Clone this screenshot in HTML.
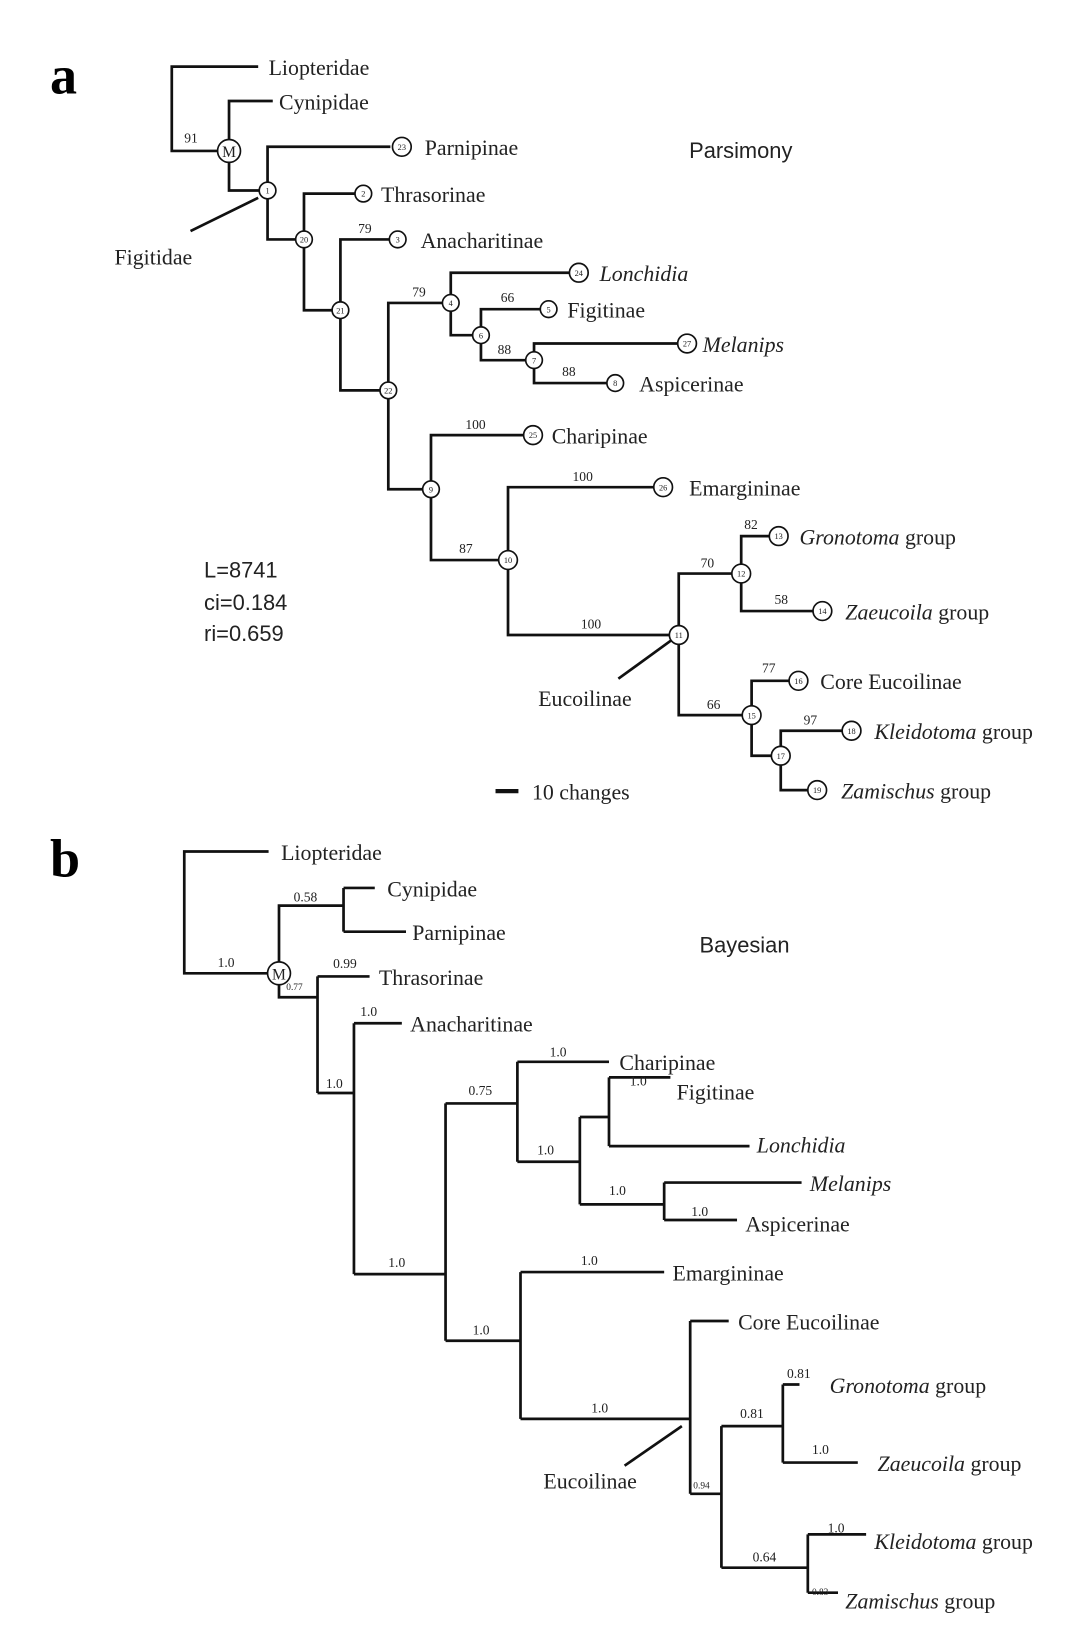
<!DOCTYPE html>
<html><head><meta charset="utf-8"><style>
html,body{margin:0;padding:0;background:#fff;}
svg{display:block}
.s{font-family:"Liberation Serif",serif;font-size:21px;fill:#222}
.i{font-style:italic}
.n{font-family:"Liberation Serif",serif;font-size:13px;fill:#222}
.t{font-family:"Liberation Serif",serif;font-size:8px;fill:#222;text-anchor:middle}
.ss{font-family:"Liberation Sans",sans-serif;font-size:21px;fill:#222}
path{stroke:#111;stroke-width:2.6;fill:none}
circle{stroke:#111;stroke-width:1.6;fill:#fff}
</style></head><body>
<svg width="1066" height="1626" viewBox="0 0 1024 1562" xmlns="http://www.w3.org/2000/svg">
<text x="48" y="90" style="font-family:'Liberation Serif',serif;font-weight:bold;font-size:52px">a</text>
<text x="48" y="842" style="font-family:'Liberation Serif',serif;font-weight:bold;font-size:52px">b</text>

<!-- Panel a -->
<path d="M248 64H165V145H209 M220 134V97H262 M220 156V183H249 M257 175V141H375 M257 191V230H284 M292 222V186H342 M292 238V298H319 M327 290V230H375 M327 306V375H365 M373 367V291H425 M373 383V470H406 M433 283V262H548 M433 299V322H455 M462 314V297H520 M462 330V346H505 M513 338V330H652 M513 354V368H583 M414 462V418H504 M414 478V538H480 M488 530V468H629 M488 546V610H644 M652 602V551H704 M652 618V687H714 M712 543V515H741 M712 559V587H782 M722 679V654H760 M722 695V726H742 M750 718V702H811 M750 734V759H778"/>
<path d="M248 190L183 222 M645 615L594 652"/>
<path d="M476 760H498" style="stroke-width:4"/>
<g>
<circle cx="220" cy="145" r="11"/><text x="220" y="151" class="t" style="font-size:15px">M</text>
<circle cx="257" cy="183" r="8"/><text x="257" y="186" class="t">1</text>
<circle cx="386" cy="141" r="9"/><text x="386" y="144" class="t">23</text>
<circle cx="349" cy="186" r="8"/><text x="349" y="189" class="t">2</text>
<circle cx="292" cy="230" r="8"/><text x="292" y="233" class="t">20</text>
<circle cx="382" cy="230" r="8"/><text x="382" y="233" class="t">3</text>
<circle cx="327" cy="298" r="8"/><text x="327" y="301" class="t">21</text>
<circle cx="373" cy="375" r="8"/><text x="373" y="378" class="t">22</text>
<circle cx="433" cy="291" r="8"/><text x="433" y="294" class="t">4</text>
<circle cx="556" cy="262" r="9"/><text x="556" y="265" class="t">24</text>
<circle cx="462" cy="322" r="8"/><text x="462" y="325" class="t">6</text>
<circle cx="527" cy="297" r="8"/><text x="527" y="300" class="t">5</text>
<circle cx="513" cy="346" r="8"/><text x="513" y="349" class="t">7</text>
<circle cx="660" cy="330" r="9"/><text x="660" y="333" class="t">27</text>
<circle cx="591" cy="368" r="8"/><text x="591" y="371" class="t">8</text>
<circle cx="414" cy="470" r="8"/><text x="414" y="473" class="t">9</text>
<circle cx="512" cy="418" r="9"/><text x="512" y="421" class="t">25</text>
<circle cx="488" cy="538" r="9"/><text x="488" y="541" class="t">10</text>
<circle cx="637" cy="468" r="9"/><text x="637" y="471" class="t">26</text>
<circle cx="652" cy="610" r="9"/><text x="652" y="613" class="t">11</text>
<circle cx="712" cy="551" r="9"/><text x="712" y="554" class="t">12</text>
<circle cx="748" cy="515" r="9"/><text x="748" y="518" class="t">13</text>
<circle cx="790" cy="587" r="9"/><text x="790" y="590" class="t">14</text>
<circle cx="722" cy="687" r="9"/><text x="722" y="690" class="t">15</text>
<circle cx="767" cy="654" r="9"/><text x="767" y="657" class="t">16</text>
<circle cx="750" cy="726" r="9"/><text x="750" y="729" class="t">17</text>
<circle cx="818" cy="702" r="9"/><text x="818" y="705" class="t">18</text>
<circle cx="785" cy="759" r="9"/><text x="785" y="762" class="t">19</text>
</g>
<text x="258" y="72" class="s">Liopteridae</text>
<text x="268" y="105" class="s">Cynipidae</text>
<text x="408" y="149" class="s">Parnipinae</text>
<text x="366" y="194" class="s">Thrasorinae</text>
<text x="404" y="238" class="s">Anacharitinae</text>
<text x="576" y="270" class="s i">Lonchidia</text>
<text x="545" y="305" class="s">Figitinae</text>
<text x="675" y="338" class="s i">Melanips</text>
<text x="614" y="376" class="s">Aspicerinae</text>
<text x="530" y="426" class="s">Charipinae</text>
<text x="662" y="476" class="s">Emargininae</text>
<text x="768" y="523" class="s"><tspan class="i">Gronotoma</tspan> group</text>
<text x="812" y="595" class="s"><tspan class="i">Zaeucoila</tspan> group</text>
<text x="788" y="662" class="s">Core Eucoilinae</text>
<text x="840" y="710" class="s"><tspan class="i">Kleidotoma</tspan> group</text>
<text x="808" y="767" class="s"><tspan class="i">Zamischus</tspan> group</text>
<text x="110" y="254" class="s">Figitidae</text>
<text x="517" y="678" class="s">Eucoilinae</text>
<text x="511" y="768" class="s">10 changes</text>
<text x="662" y="152" class="ss">Parsimony</text>
<text x="196" y="555" class="ss">L=8741</text>
<text x="196" y="586" class="ss">ci=0.184</text>
<text x="196" y="616" class="ss">ri=0.659</text>
<text x="177" y="137" class="n">91</text>
<text x="344" y="224" class="n">79</text>
<text x="396" y="285" class="n">79</text>
<text x="481" y="290" class="n">66</text>
<text x="478" y="340" class="n">88</text>
<text x="540" y="361" class="n">88</text>
<text x="447" y="412" class="n">100</text>
<text x="441" y="531" class="n">87</text>
<text x="550" y="462" class="n">100</text>
<text x="558" y="604" class="n">100</text>
<text x="673" y="545" class="n">70</text>
<text x="715" y="508" class="n">82</text>
<text x="744" y="580" class="n">58</text>
<text x="679" y="681" class="n">66</text>
<text x="732" y="646" class="n">77</text>
<text x="772" y="696" class="n">97</text>

<!-- Panel b -->
<path d="M258 818H177V935H257 M268 924V870H330 M330 853V895 M330 853H360 M330 895H390 M268 946V958H305 M305 938V1050 M305 938H355 M305 1050H340 M340 983V1224 M340 983H386 M340 1224H428 M428 1060V1288 M428 1060H497 M428 1288H500 M497 1020V1116 M497 1020H585 M497 1116H557 M557 1073V1157 M557 1073H585 M557 1157H638 M585 1035V1101 M585 1035H644 M585 1101H720 M638 1136V1172 M638 1136H770 M638 1172H708 M500 1222V1363 M500 1222H638 M500 1363H663 M663 1269V1435 M663 1269H700 M663 1435H693 M693 1370V1506 M693 1370H752 M693 1506H776 M752 1330V1405 M752 1330H768 M752 1405H824 M776 1474V1530 M776 1474H832 M776 1530H805"/>
<path d="M655 1370L600 1408"/>
<circle cx="268" cy="935" r="11"/><text x="268" y="941" class="t" style="font-size:15px">M</text>
<text x="270" y="826" class="s">Liopteridae</text>
<text x="372" y="861" class="s">Cynipidae</text>
<text x="396" y="903" class="s">Parnipinae</text>
<text x="364" y="946" class="s">Thrasorinae</text>
<text x="394" y="991" class="s">Anacharitinae</text>
<text x="595" y="1028" class="s">Charipinae</text>
<text x="650" y="1056" class="s">Figitinae</text>
<text x="727" y="1107" class="s i">Lonchidia</text>
<text x="778" y="1144" class="s i">Melanips</text>
<text x="716" y="1183" class="s">Aspicerinae</text>
<text x="646" y="1230" class="s">Emargininae</text>
<text x="709" y="1277" class="s">Core Eucoilinae</text>
<text x="797" y="1338" class="s"><tspan class="i">Gronotoma</tspan> group</text>
<text x="843" y="1413" class="s"><tspan class="i">Zaeucoila</tspan> group</text>
<text x="840" y="1488" class="s"><tspan class="i">Kleidotoma</tspan> group</text>
<text x="812" y="1545" class="s"><tspan class="i">Zamischus</tspan> group</text>
<text x="522" y="1430" class="s">Eucoilinae</text>
<text x="672" y="915" class="ss">Bayesian</text>
<text x="209" y="929" class="n">1.0</text>
<text x="282" y="866" class="n">0.58</text>
<text x="275" y="951" class="n" style="font-size:9px">0.77</text>
<text x="320" y="930" class="n">0.99</text>
<text x="346" y="976" class="n">1.0</text>
<text x="313" y="1045" class="n">1.0</text>
<text x="373" y="1217" class="n">1.0</text>
<text x="450" y="1052" class="n">0.75</text>
<text x="454" y="1282" class="n">1.0</text>
<text x="528" y="1015" class="n">1.0</text>
<text x="516" y="1109" class="n">1.0</text>
<text x="605" y="1043" class="n">1.0</text>
<text x="585" y="1148" class="n">1.0</text>
<text x="664" y="1168" class="n">1.0</text>
<text x="558" y="1215" class="n">1.0</text>
<text x="568" y="1357" class="n">1.0</text>
<text x="666" y="1430" class="n" style="font-size:9px">0.94</text>
<text x="711" y="1362" class="n">0.81</text>
<text x="723" y="1500" class="n">0.64</text>
<text x="756" y="1324" class="n">0.81</text>
<text x="780" y="1397" class="n">1.0</text>
<text x="795" y="1472" class="n">1.0</text>
<text x="780" y="1532" class="n" style="font-size:9px">0.83</text>
</svg>
</body></html>
